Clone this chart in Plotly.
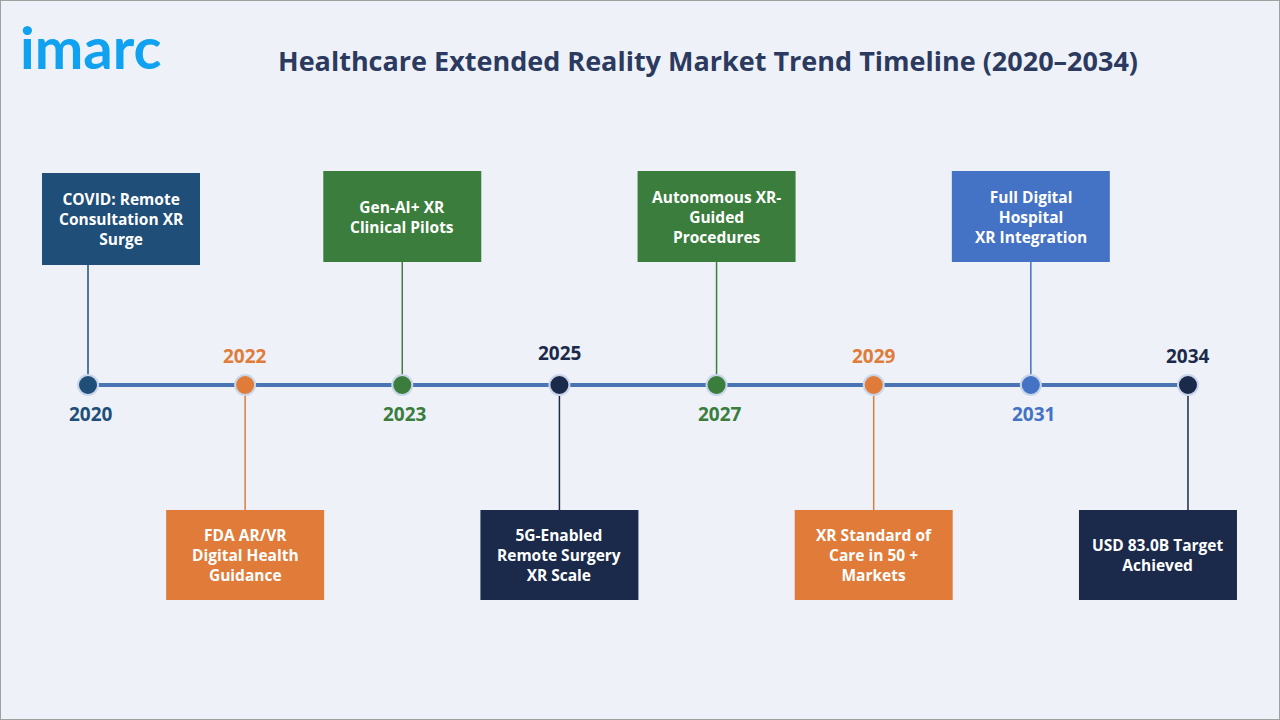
import plotly.graph_objects as go

# timeline data
years = ["2020", "2022", "2023", "2025", "2027", "2029", "2031", "2034"]
events = [
    "COVID: Remote<br>Consultation XR<br>Surge",
    "FDA AR/VR<br>Digital Health<br>Guidance",
    "Gen-AI+ XR<br>Clinical Pilots",
    "5G-Enabled<br>Remote Surgery<br>XR Scale",
    "Autonomous XR-<br>Guided<br>Procedures",
    "XR Standard of<br>Care in 50 +<br>Markets",
    "Full Digital<br>Hospital<br>XR Integration",
    "USD 83.0B Target<br>Achieved",
]
colors = ["#1f4e79", "#e07b39", "#3a7d3c", "#1b2a4a", "#3a7d3c", "#e07b39", "#4472c4", "#1b2a4a"]
box_above = [True, False, True, False, True, False, True, False]

FONT = "Open Sans"
px_step = 157.14
x0 = -88 / px_step
x1 = (1280 - 88) / px_step
hw = 79 / px_step
# horizontal box shift for first/last items (in px)
shift = {0: 33, 7: -30}

fig = go.Figure()
idx = list(range(len(years)))

# main line
fig.add_trace(go.Scatter(x=[0, len(years) - 1], y=[385, 385], mode="lines",
                         line=dict(color="#4a74b4", width=4), hoverinfo="skip"))

for i, (yr, ev, c, up) in enumerate(zip(years, events, colors, box_above)):
    bx = i + shift.get(i, 0) / px_step
    if up:
        top, bot = (173, 265) if i == 0 else (171, 262)
        fig.add_shape(type="line", x0=i, x1=i, y0=bot, y1=385, line=dict(color=c, width=1.5), layer="below")
        ylab = 414
    else:
        top, bot = 510, 600
        fig.add_shape(type="line", x0=i, x1=i, y0=385, y1=top, line=dict(color=c, width=1.5), layer="below")
        ylab = 353 if i == 3 else 356
    fig.add_shape(type="rect", x0=bx - hw, x1=bx + hw, y0=top, y1=bot, fillcolor=c, line=dict(width=0))
    fig.add_annotation(x=bx, y=(top + bot) / 2, text="<b>" + ev + "</b>", showarrow=False,
                       font=dict(family=FONT, size=15.5, color="white"))
    fig.add_annotation(x=i + (0.02 if up else 0), y=ylab, text="<b>" + yr + "</b>", showarrow=False,
                       font=dict(family=FONT, size=19, color=c))

fig.add_trace(go.Scatter(x=idx, y=[385] * len(idx), mode="markers",
                         marker=dict(size=20, color=colors, line=dict(color="#c9d6ea", width=2)),
                         hoverinfo="skip"))

# logo and title
fig.add_annotation(xref="paper", yref="paper", x=0.014, y=0.935, xanchor="left", yanchor="middle",
                   text="<b>imarc</b>", showarrow=False,
                   font=dict(family="Lato", size=58, color="#10a2f0"))
fig.add_annotation(xref="paper", yref="paper", x=0.553, y=0.916, xanchor="center", yanchor="middle",
                   text="<b>Healthcare Extended Reality Market Trend Timeline (2020–2034)</b>", showarrow=False,
                   font=dict(family=FONT, size=27, color="#2b3a5e"))

fig.update_layout(
    width=1280, height=720, margin=dict(l=0, r=0, t=0, b=0),
    paper_bgcolor="#eef2f8", plot_bgcolor="#eef2f8", showlegend=False,
    xaxis=dict(range=[x0, x1], visible=False, fixedrange=True),
    yaxis=dict(range=[720, 0], visible=False, fixedrange=True),
    shapes=list(fig.layout.shapes) + [dict(type="rect", xref="paper", yref="paper", x0=0, x1=1, y0=0, y1=1,
                                           line=dict(color="#a0a0a0", width=2))],
)

fig.write_html("out.html", config={"displayModeBar": False},
               post_script="document.body.style.margin='0';")
